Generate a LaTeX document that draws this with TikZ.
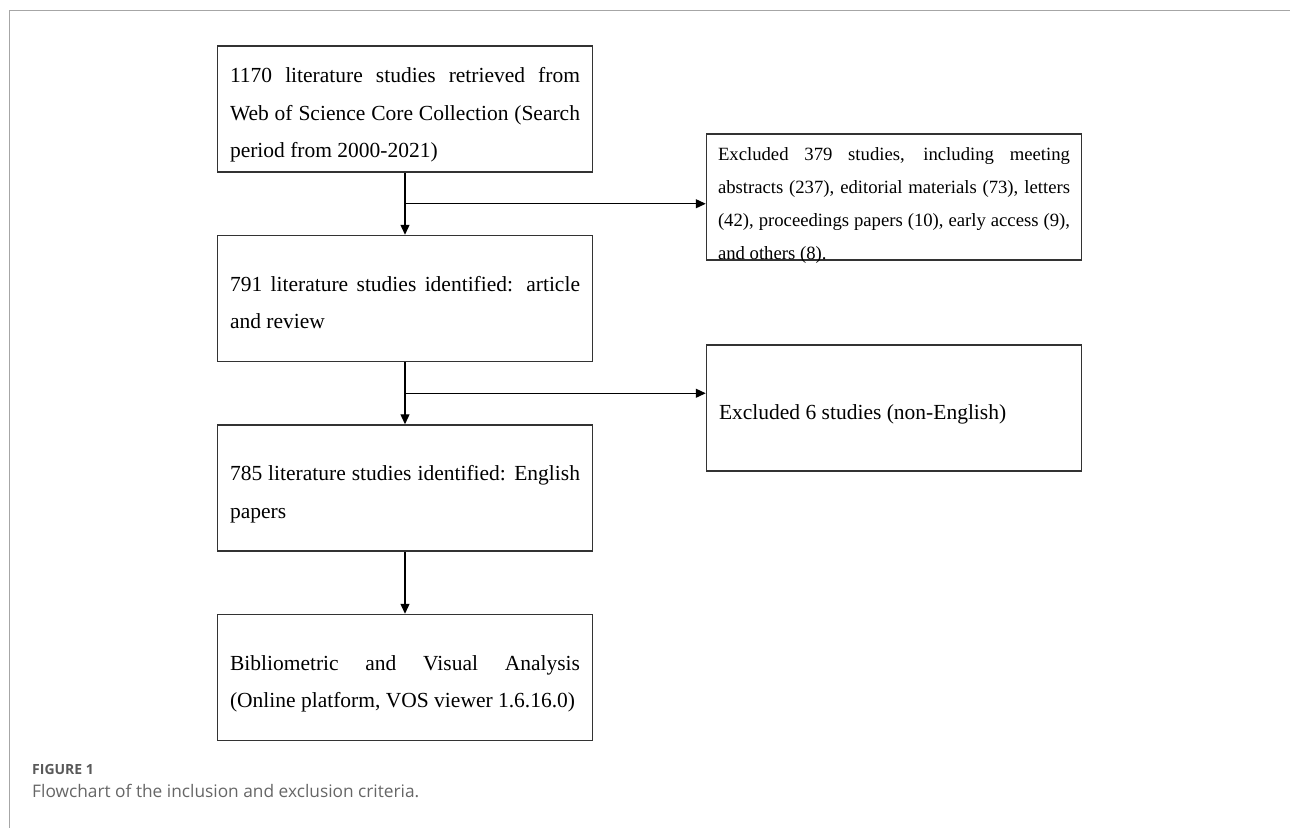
\documentclass[tikz,border=0pt]{standalone}
\usepackage{fontspec}
\setmainfont{Liberation Serif}
\newfontfamily\capfont{Open Sans}
\usetikzlibrary{arrows.meta,positioning,calc}
\hyphenpenalty=10000
\tolerance=10000

\begin{document}
\begin{tikzpicture}[auto,x=1pt,y=1pt]
\tikzstyle{block} = [rectangle, draw=black!80, line width=1.5pt,
text width=350pt, align=justify, inner xsep=12.5pt, inner ysep=0pt,
minimum height=126pt, text height=25pt, font=\fontsize{21.5}{37.5}\selectfont]
\tikzstyle{one_line} = [text depth=2.5pt]
\tikzstyle{two_lines} = [text depth=40pt]
\tikzstyle{three_lines} = [text depth=77.5pt]
\tikzstyle{excl} = [rectangle, draw=black!80, line width=1.5pt,
minimum width=375pt, minimum height=126pt]
\tikzstyle{excl_text} = [text width=352pt, align=justify, inner sep=0pt,
font=\fontsize{18.7}{33}\selectfont]
\tikzstyle{line} = [draw, line width=1.3pt, -{Triangle[length=10pt,width=9pt]}];
\tikzstyle{frame} = [draw=black!35, line width=1pt]

\useasboundingbox (0,0) rectangle (1290,-828);
\draw[frame] (1290,-10) -- (9,-10) -- (9,-828);

% left column
\node [block, three_lines] (retrieved) at (405,-109) {1170 literature studies retrieved from\linebreak
Web of Science Core Collection (Search\linebreak period from 2000-2021)};
\node [block, two_lines, below=62pt of retrieved] (identified) {791 literature studies identified: article\linebreak and review};
\node [block, two_lines, below=62pt of identified] (english) {785 literature studies identified: English\linebreak papers};
\node [block, two_lines, below=62pt of english] (analysis) {Bibliometric and Visual Analysis\linebreak
(Online platform, VOS viewer 1.6.16.0)};

% right column
\node [excl] (excl1) at (894,-197) {};
\node [excl_text] (excl1text) at ([yshift=-8pt]excl1.center) {Excluded 379 studies, including meeting\linebreak
abstracts (237), editorial materials (73), letters\linebreak
(42), proceedings papers (10), early access (9),\linebreak and others (8).};
\node [block, one_line] (excl2) at (894,-408) {Excluded 6 studies (non-English)};

% caption
\node [anchor=west, inner sep=0pt, text=black!65,
font=\capfont\bfseries\fontsize{14}{14}\selectfont] (figlabel) at (32,-769) {FIGURE 1};
\node [anchor=west, inner sep=0pt, text=black!60,
font=\capfont\fontsize{17.3}{17.3}\selectfont] (figcaption) at (32,-791) {Flowchart of the inclusion and exclusion criteria.};

\coordinate (split1) at ($(retrieved.south)!0.5!(identified.north)$);
\coordinate (split2) at ($(identified.south)!0.5!(english.north)$);
\path[line] (retrieved) -- (identified);
\path[line] (split1) -- (split1 -| excl1.west);
\path[line] (identified) -- (english);
\path[line] (split2) -- (split2 -| excl2.west);
\path[line] (english) -- (analysis);

\end{tikzpicture}
\end{document}
